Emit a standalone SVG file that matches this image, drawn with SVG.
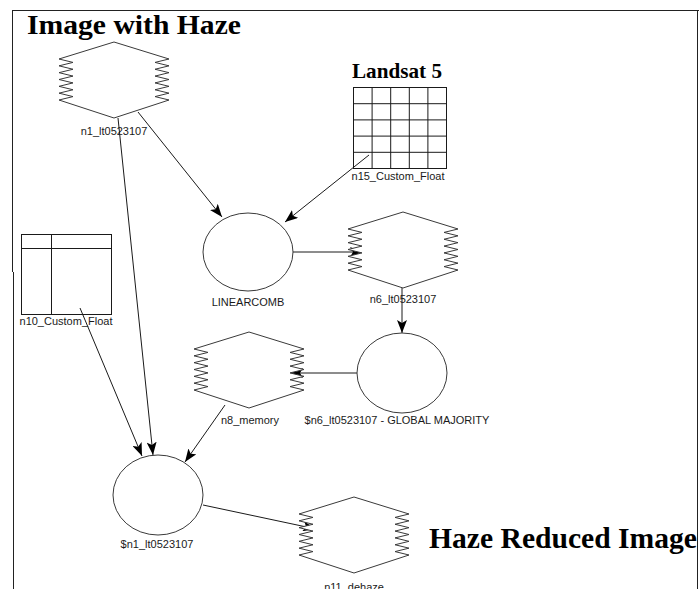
<svg xmlns="http://www.w3.org/2000/svg" xmlns:xlink="http://www.w3.org/1999/xlink" width="699" height="589" viewBox="0 0 699 589">
  <style>
    .shape { fill: #ffffff; stroke: #3a3a3a; stroke-width: 1; }
    .grid { fill: none; stroke: #1a1a1a; stroke-width: 1; }
    .edge { fill: none; stroke: #1a1a1a; stroke-width: 1; }
    .label { font-family: "Liberation Sans", Arial, sans-serif; font-size: 11px; fill: #1a1a1a; text-anchor: middle; }
    .title { font-family: "Liberation Serif", "Times New Roman", serif; font-weight: bold; fill: #000000; }
    .frame { fill: none; stroke: #222222; stroke-width: 1; }
  </style>
  <defs>
    <!-- raster icon: hexagon with serrated sides, origin at top vertex -->
    <path id="raster" class="shape" d="M0,0 L55,17 L41,20.42 L55,23.83 L41,27.25 L55,30.67 L41,34.08 L55,37.5 L41,40.92 L55,44.33 L41,47.75 L55,51.17 L41,54.58 L55,58 L0,76 L-55,58 L-41,54.58 L-55,51.17 L-41,47.75 L-55,44.33 L-41,40.92 L-55,37.5 L-41,34.08 L-55,30.67 L-41,27.25 L-55,23.83 L-41,20.42 L-55,17 Z"/>
    <marker id="arrow" markerUnits="userSpaceOnUse" markerWidth="14" markerHeight="10" refX="13" refY="5" orient="auto">
      <path d="M0,0 L13,5 L0,10 L3,5 Z" fill="#000000"/>
    </marker>
  </defs>

  <rect width="699" height="589" fill="#ffffff"/>

  <!-- page frame -->
  <g id="frame">
    <line class="frame" x1="12" y1="10.5" x2="699" y2="10.5"/>
    <line class="frame" x1="12.5" y1="10" x2="12.5" y2="272"/>
    <line class="frame" x1="13.5" y1="272" x2="13.5" y2="589"/>
    <line class="frame" x1="697.5" y1="10" x2="697.5" y2="589"/>
  </g>

  <!-- captions -->
  <g id="captions">
    <text class="title" x="27" y="34" font-size="28" textLength="214" lengthAdjust="spacingAndGlyphs">Image with Haze</text>
    <text class="title" x="352" y="78" font-size="21" textLength="90" lengthAdjust="spacingAndGlyphs">Landsat 5</text>
    <text class="title" x="429" y="548" font-size="29" textLength="268" lengthAdjust="spacingAndGlyphs">Haze Reduced Image</text>
  </g>

  <!-- connectors -->
  <g id="connectors">
    <line class="edge" x1="138" y1="112" x2="222" y2="217" marker-end="url(#arrow)"/>
    <line class="edge" x1="118" y1="118" x2="153" y2="455" marker-end="url(#arrow)"/>
    <line class="edge" x1="369" y1="155" x2="285" y2="222" marker-end="url(#arrow)"/>
    <line class="edge" x1="293" y1="252" x2="363" y2="252" marker-end="url(#arrow)"/>
    <line class="edge" x1="402" y1="288" x2="402" y2="333" marker-end="url(#arrow)"/>
    <line class="edge" x1="357" y1="373" x2="290" y2="373" marker-end="url(#arrow)"/>
    <line class="edge" x1="225" y1="405" x2="185" y2="462" marker-end="url(#arrow)"/>
    <line class="edge" x1="80" y1="308" x2="142" y2="456" marker-end="url(#arrow)"/>
    <line class="edge" x1="203" y1="505" x2="316" y2="529" marker-end="url(#arrow)"/>
  </g>

  <g id="n1">
    <use xlink:href="#raster" x="114" y="42"/>
    <text class="label" x="114" y="135">n1_lt0523107</text>
  </g>

  <g id="n15">
    <rect class="grid" x="353.5" y="87.5" width="93" height="81"/>
    <path class="grid" d="M372.1,87.5 V168.5 M390.7,87.5 V168.5 M409.3,87.5 V168.5 M427.9,87.5 V168.5 M353.5,103.7 H446.5 M353.5,119.9 H446.5 M353.5,136.1 H446.5 M353.5,152.3 H446.5"/>
    <text class="label" x="398" y="180">n15_Custom_Float</text>
  </g>

  <g id="n10">
    <rect class="grid" x="21.5" y="234.5" width="90" height="80"/>
    <path class="grid" d="M21.5,248.5 H111.5 M51.5,234.5 V314.5"/>
    <text class="label" x="66" y="325">n10_Custom_Float</text>
  </g>

  <g id="linearcomb">
    <ellipse class="shape" cx="248" cy="252" rx="45" ry="39"/>
    <text class="label" x="248" y="306">LINEARCOMB</text>
  </g>

  <g id="n6">
    <use xlink:href="#raster" x="403" y="212"/>
    <text class="label" x="403" y="303">n6_lt0523107</text>
  </g>

  <g id="majority">
    <ellipse class="shape" cx="402" cy="373" rx="45" ry="40"/>
    <text class="label" x="397" y="424">$n6_lt0523107 - GLOBAL MAJORITY</text>
  </g>

  <g id="n8">
    <use xlink:href="#raster" x="249" y="332"/>
    <text class="label" x="250" y="424">n8_memory</text>
  </g>

  <g id="n1_calc">
    <ellipse class="shape" cx="158" cy="495" rx="45" ry="40"/>
    <text class="label" x="157" y="548">$n1_lt0523107</text>
  </g>

  <g id="n11">
    <use xlink:href="#raster" x="354" y="497"/>
    <text class="label" x="354" y="591">n11_dehaze</text>
  </g>
</svg>
